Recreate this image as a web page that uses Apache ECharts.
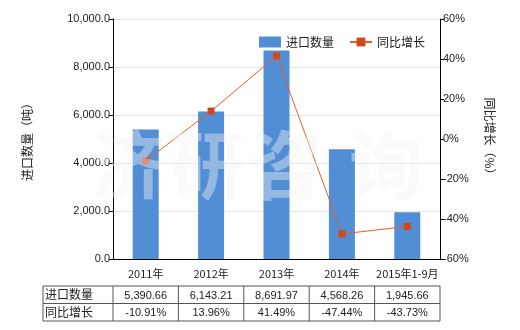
<!DOCTYPE html>
<html><head><meta charset="utf-8">
<script src="https://cdn.jsdelivr.net/npm/echarts@6/dist/echarts.min.js"></script>
<style>html,body{margin:0;padding:0;background:#fff}#c{width:520px;height:330px}</style>
</head><body><div id="c"></div>
<script>
var categories = ['2011年', '2012年', '2013年', '2014年', '2015年1-9月'];
var importQty = [5390.66, 6143.21, 8691.97, 4568.26, 1945.66];
var yoyGrowth = [-10.91, 13.96, 41.49, -47.44, -43.73];
var qtyLabels = ['5,390.66', '6,143.21', '8,691.97', '4,568.26', '1,945.66'];
var growthLabels = ['-10.91%', '13.96%', '41.49%', '-47.44%', '-43.73%'];
var seriesNames = ['进口数量', '同比增长'];
var leftAxisName = '进口数量（吨）';
var rightAxisName = '同比增长（%）';
var watermark = ['济', '研', '咨', '询'];

var numFont = 'Liberation Sans, Arial, sans-serif';
var cjkFont = '"Noto Sans CJK SC", sans-serif';
var chart = echarts.init(document.getElementById('c'));
function fmt(v){ return v.toLocaleString('en-US',{minimumFractionDigits:1,maximumFractionDigits:1}); }
var option = {
  animation: false,
  grid: {left: 113, right: 80, top: 19, bottom: 71, containLabel: false},
  legend: {
    top: 31, left: 254, itemWidth: 22, itemHeight: 11, itemGap: 15,
    textStyle: {fontFamily: cjkFont, fontSize: 12, color: '#222'},
    data: [{name: seriesNames[0], icon: 'rect'}, {name: seriesNames[1]}]
  },
  xAxis: {
    type: 'category', data: categories,
    axisLine: {lineStyle: {color: '#000'}},
    axisTick: {show: false},
    axisLabel: {interval: 0, fontFamily: cjkFont, fontSize: 11, color: '#222', margin: 9}
  },
  yAxis: [{
    type: 'value', min: 0, max: 10000, interval: 2000,
    name: leftAxisName, nameLocation: 'middle', nameGap: 80, nameRotate: 90,
    nameTextStyle: {fontFamily: cjkFont, fontSize: 12, color: '#222'},
    axisLine: {show: true, lineStyle: {color: '#000'}},
    axisTick: {show: true, length: 4, lineStyle: {color: '#000'}},
    axisLabel: {fontFamily: numFont, fontSize: 11, color: '#222', formatter: fmt, margin: 3},
    splitLine: {lineStyle: {color: '#e4e4e4'}}
  }, {
    type: 'value', min: -60, max: 60, interval: 20,
    name: rightAxisName, nameLocation: 'middle', nameGap: 44, nameRotate: -90,
    nameTextStyle: {fontFamily: cjkFont, fontSize: 12, color: '#222'},
    axisLine: {show: true, lineStyle: {color: '#000'}},
    axisTick: {show: true, length: 4, lineStyle: {color: '#000'}},
    axisLabel: {fontFamily: numFont, fontSize: 11, color: '#222', formatter: '{value}%', margin: 3},
    splitLine: {show: false}
  }],
  series: [{
    name: seriesNames[0], type: 'bar', data: importQty, barWidth: 26,
    itemStyle: {color: '#528ed6'}
  }, {
    name: seriesNames[1], type: 'line', yAxisIndex: 1, data: yoyGrowth,
    symbol: 'rect', symbolSize: 7,
    lineStyle: {color: '#e2602e', width: 1},
    itemStyle: {color: '#d4461c'}
  }]
};
chart.setOption(option);

var g = [];
// watermark
var wmX = [128, 208, 286, 386];
for (var i = 0; i < watermark.length; i++) {
  g.push({type: 'text', z: 100, x: wmX[i], y: 165,
    style: {text: watermark[i], fontFamily: cjkFont, fontSize: 74, fontWeight: 'bold',
      fill: 'rgba(242,242,242,0.42)', align: 'center', verticalAlign: 'middle'}});
}
// table
var rect = chart.getModel().getComponent('grid').coordinateSystem.getRect();
var x0 = 43, xL = rect.x, xR = rect.x + rect.width;
var yT = 286, yM = 303.5, yB = 321;
var step = rect.width / categories.length;
var lc = '#555';
function line(x1,y1,x2,y2){ g.push({type:'line', shape:{x1:x1,y1:y1,x2:x2,y2:y2}, style:{stroke:lc, lineWidth:1}}); }
line(x0, yT, xR, yT); line(x0, yM, xR, yM); line(x0, yB, xR, yB);
line(x0, yT, x0, yB);
for (var k = 0; k <= categories.length; k++) line(xL + step * k, yT, xL + step * k, yB);
g.push({type:'text', x: x0 + 2, y: (yT + yM) / 2, style:{text: seriesNames[0], fontFamily: cjkFont, fontSize: 12, fill:'#222', verticalAlign:'middle'}});
g.push({type:'text', x: x0 + 2, y: (yM + yB) / 2, style:{text: seriesNames[1], fontFamily: cjkFont, fontSize: 12, fill:'#222', verticalAlign:'middle'}});
for (var j = 0; j < categories.length; j++) {
  var cx = chart.convertToPixel({xAxisIndex: 0}, categories[j]);
  g.push({type:'text', x: cx, y: (yT + yM) / 2 + 1, style:{text: qtyLabels[j], fontFamily: numFont, fontSize: 11, fill:'#222', align:'center', verticalAlign:'middle'}});
  g.push({type:'text', x: cx, y: (yM + yB) / 2 + 1, style:{text: growthLabels[j], fontFamily: numFont, fontSize: 11, fill:'#222', align:'center', verticalAlign:'middle'}});
}
chart.setOption({graphic: g});
</script></body></html>
